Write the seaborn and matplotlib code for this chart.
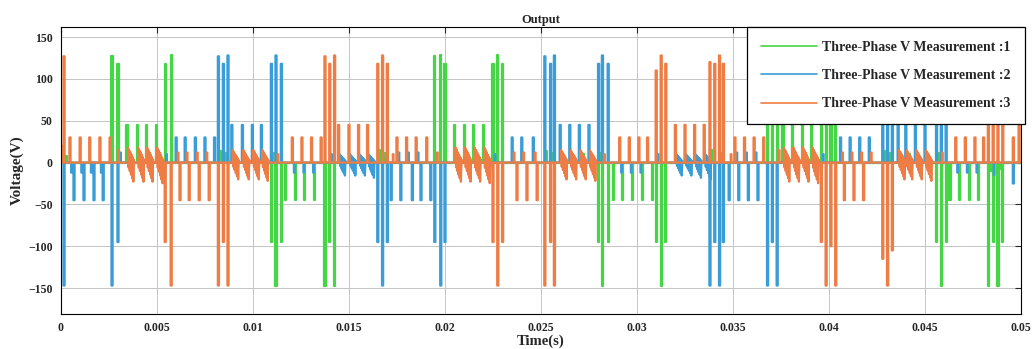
import numpy as np
import pandas as pd
import matplotlib
matplotlib.use("Agg")
import matplotlib.pyplot as plt
import seaborn as sns

# ------------------------------------------
# DATA (times in ms, voltages in V)
# ------------------------------------------

series_names = ["Three-Phase V Measurement :1",
                "Three-Phase V Measurement :2",
                "Three-Phase V Measurement :3"]
series_colors = ["#45d645", "#3a9dd8", "#ee7d45"]

# phase 1 (green) spikes
green_t = [2.66, 2.97, 3.44, 3.97, 4.44, 4.96, 5.43, 5.74,
           10.96, 11.2, 11.48, 11.7, 12.2, 12.7, 13.2, 13.75, 14.0, 14.25,
           19.47, 19.78, 20.0, 20.5, 21.0, 21.5, 22.0, 22.5, 22.75, 23.0,
           28.0, 28.2, 28.5, 28.76, 29.23, 29.75, 30.27, 30.8, 31.0, 31.26, 31.5,
           36.8, 37.05, 37.3, 37.6, 38.1, 38.6, 39.1, 39.6, 39.85, 40.1, 40.35,
           45.6, 45.85, 46.1, 46.3, 46.8, 47.3, 47.8, 48.3, 48.55, 48.8, 49.05]
green_v = [127, 118, 45, 45, 45, 45, 118, 128,
           -95, -147, -95, -45, -45, -45, -45, -147, -95, -147,
           127, 128, 118, 45, 45, 45, 45, 118, 128, 118,
           -95, -147, -95, -45, -45, -45, -45, -45, -95, -147, -95,
           127, 118, 128, 45, 45, 45, 45, 118, 128, 118, 127,
           -95, -147, -95, -45, -45, -45, -45, -147, -95, -147, -95]

# phase 2 (blue) spikes
blue_t = [0.16, 0.68, 1.2, 1.72, 2.2, 2.66, 2.97,
          6.0, 6.47, 7.0, 7.5, 8.0, 8.2, 8.46, 8.7, 8.9, 9.45, 9.97, 10.44, 10.96, 11.2, 11.48,
          16.5, 16.75, 17.0, 17.2, 17.7, 18.3, 18.75, 19.26, 19.47, 19.78, 20.0,
          23.5, 24.0, 24.6, 25.2, 25.5, 25.7, 26.0, 26.5, 27.0, 27.5, 28.0, 28.2, 28.5,
          33.8, 34.05, 34.3, 34.5, 34.8, 35.3, 35.8, 36.3, 36.8, 37.05, 37.3,
          40.6, 41.1, 41.6, 42.1, 42.8, 43.05, 43.3, 43.6, 44.0, 44.5, 45.0, 45.6, 45.85, 46.1,
          49.6]
blue_v = [-147, -45, -45, -45, -45, -147, -95,
          30, 30, 30, 30, 30, 127, 118, 128, 45, 45, 45, 45, 118, 128, 118,
          -95, -147, -95, -45, -45, -45, -45, -45, -95, -147, -95,
          30, 30, 30, 127, 118, 128, 45, 45, 45, 45, 118, 128, 118,
          -147, -95, -147, -95, -45, -45, -45, -45, -147, -95, -147,
          30, 30, 30, 30, 127, 118, 128, 45, 45, 45, 45, 118, 128, 118,
          -25]

# phase 3 (orange) spikes
orange_t = [0.02, 0.16, 0.47, 1.0, 1.5, 2.03, 2.56,
            5.43, 5.74, 6.2, 6.68, 7.2, 7.72, 8.2, 8.46, 8.7,
            12.05, 12.55, 13.05, 13.55, 13.75, 14.0, 14.25, 14.46, 15.0, 15.5, 15.97,
            16.5, 16.75, 17.0, 17.5, 18.0, 18.5, 19.05,
            22.5, 22.75, 23.0, 23.75, 24.27, 24.8, 25.2, 25.5, 25.7,
            29.1, 29.6, 30.1, 30.55, 31.0, 31.26, 31.5, 32.0, 32.5, 33.0, 33.5,
            33.8, 34.05, 34.3, 34.5, 35.1, 35.6, 36.1, 36.6,
            39.6, 39.85, 40.1, 40.35, 40.8, 41.3, 41.8, 42.8, 43.05, 43.3,
            46.6, 47.1, 47.6, 48.05, 48.3, 48.55, 48.8, 49.05, 49.6, 49.9]
orange_v = [20, 127, 30, 30, 30, 30, 30,
            -95, -147, -45, -45, -45, -45, -147, -95, -147,
            30, 30, 30, 30, 127, 118, 128, 45, 45, 45, 45,
            118, 128, 118, 30, 30, 30, 30,
            -95, -147, -95, -45, -45, -45, -147, -95, -147,
            30, 30, 30, 30, 110, 128, 118, 45, 45, 45, 45,
            120, 118, 128, 118, 30, 30, 30, 30,
            -95, -147, -100, -147, -45, -45, -45, -115, -147, -105,
            30, 30, 30, 30, 127, 118, 128, 118, 30, 45]

# small ringing spikes next to the large ones
green_ring_t = [0.3, 8.3, 8.58, 10.1, 11.05, 16.6, 16.88, 25.3, 25.6, 27.2,
                28.1, 33.9, 34.4, 42.9, 43.2, 44.2, 45.7, 48.4, 48.9]
green_ring_v = [8, 14, 12, 10, 12, 15, 12, 14, 12, 10,
                12, 15, 12, 14, 12, 10, 12, -10, -8]
blue_ring_t = [0.55, 1.08, 1.58, 2.1, 3.1, 5.5, 12.15, 12.65, 13.15, 14.1,
               17.6, 18.1, 18.6, 20.6, 22.6, 29.2, 29.7, 30.2, 31.1, 35.2,
               35.7, 36.2, 37.7, 39.7, 46.7, 47.2, 47.7, 48.6]
blue_ring_v = [-12, -12, -12, -12, 12, 10, -12, -12, -12, 10,
               12, 12, 12, 15, 10, -12, -12, -12, 10, 12,
               12, 12, 15, 10, -12, -12, -12, -15]
orange_ring_t = [3.0, 6.1, 6.57, 7.1, 7.6, 11.3, 17.3, 19.6, 23.6, 24.1,
                 24.7, 28.3, 34.9, 37.4, 40.7, 41.2, 41.7, 42.2, 45.9]
orange_ring_v = [15, 12, 12, 12, 12, 10, 10, 12, 12, 12,
                 12, 10, 10, 15, 12, 12, 12, 12, 12]

# sawtooth ringing blocks between spikes: start time, top, bottom
orange_tooth_t = [3.44, 3.97, 4.44, 4.96, 8.9, 9.45, 9.97, 10.44,
                  20.5, 21.0, 21.5, 22.0, 26.0, 26.5, 27.0, 27.5,
                  37.6, 38.1, 38.6, 39.1, 43.6, 44.0, 44.5, 45.0]
orange_tooth_hi = [18, 18, 18, 18, 15, 15, 15, 15,
                   18, 18, 18, 18, 15, 15, 15, 15,
                   18, 18, 18, 18, 15, 15, 15, 15]
orange_tooth_lo = [-25, -25, -25, -27, -22, -22, -22, -24,
                   -25, -25, -25, -27, -22, -22, -22, -24,
                   -25, -25, -25, -27, -22, -22, -22, -24]
blue_tooth_t = [14.46, 15.0, 15.5, 15.97, 32.0, 32.5, 33.0, 33.5]
blue_tooth_hi = [10, 10, 10, 10, 10, 10, 10, 10]
blue_tooth_lo = [-17, -17, -17, -20, -17, -17, -20, -22]

x_ticks = [0, 0.005, 0.01, 0.015, 0.02, 0.025, 0.03, 0.035, 0.04, 0.045, 0.05]
x_tick_labels = ["0", "0.005", "0.01", "0.015", "0.02", "0.025",
                 "0.03", "0.035", "0.04", "0.045", "0.05"]
y_ticks = [-150, -100, -50, 0, 50, 100, 150]

# ------------------------------------------
# BUILD LINE VERTICES
# ------------------------------------------

HW = 0.03   # spike half width (ms)
TW = 0.36   # tooth length (ms)
NZ = 10     # strokes per tooth


def spike(t, v, hw):
    return [(t - hw, 0), (t - hw, v), (t + hw, v), (t + hw, 0)]


def build(name, sp_t, sp_v, rg_t, rg_v, th_t=(), th_hi=(), th_lo=()):
    shapes = []
    for t, v in zip(sp_t, sp_v):
        shapes.append((t, spike(t, v, HW)))
    for t, v in zip(rg_t, rg_v):
        shapes.append((t, spike(t, v, 0.02)))
    for t, hi, lo in zip(th_t, th_hi, th_lo):
        pts = [(t + 0.05, 0)]
        for k in range(NZ + 1):
            f = k / NZ
            x = t + 0.05 + f * (TW - 0.05)
            top = hi * (1 - 0.8 * f)
            bot = lo * (0.15 + 0.85 * f)
            pts.append((x, top if k % 2 == 0 else bot))
        pts.append((t + TW, 0))
        shapes.append((t + 0.05, pts))
    shapes.sort(key=lambda s: s[0])
    rows = [(0.0, 0.0)]
    for _, pts in shapes:
        rows.extend(pts)
    rows.append((50.0, 0.0))
    df = pd.DataFrame(rows, columns=["t", "v"])
    df["t"] = df["t"] / 1000.0
    df["series"] = name
    return df


data = pd.concat([
    build(series_names[0], green_t, green_v, green_ring_t, green_ring_v),
    build(series_names[1], blue_t, blue_v, blue_ring_t, blue_ring_v,
          blue_tooth_t, blue_tooth_hi, blue_tooth_lo),
    build(series_names[2], orange_t, orange_v, orange_ring_t, orange_ring_v,
          orange_tooth_t, orange_tooth_hi, orange_tooth_lo),
], ignore_index=True)

# ------------------------------------------
# PLOT
# ------------------------------------------

sns.set_style("white")
plt.rcParams["font.family"] = ["Liberation Serif", "DejaVu Serif"]
plt.rcParams["font.weight"] = "bold"

fig = plt.figure(figsize=(10.35, 3.49), dpi=100)
ax = fig.add_axes([0.0589, 0.1003, 0.9276, 0.8223])

sns.lineplot(data=data, x="t", y="v", hue="series", hue_order=series_names,
             palette=series_colors, estimator=None, sort=False,
             linewidth=1.6, ax=ax, legend=False)

ax.set_xlim(0, 0.05)
ax.set_ylim(-181, 162)
ax.set_xticks(x_ticks)
ax.set_xticklabels(x_tick_labels)
ax.set_yticks(y_ticks)
ax.grid(True, color="#c4c4c4", linewidth=0.7)
ax.set_axisbelow(True)
for s in ax.spines.values():
    s.set_color("black")
    s.set_linewidth(0.8)
ax.tick_params(direction="in", top=True, right=True, length=4,
               labelsize=8.5, width=0.8, pad=6)
for lab in ax.get_xticklabels() + ax.get_yticklabels():
    lab.set_fontweight("bold")

ax.set_title("Output", fontsize=9, fontweight="bold", pad=3)
ax.set_xlabel("Time(s)", fontsize=10.5, fontweight="bold", labelpad=0)
ax.set_ylabel("Voltage(V)", fontsize=11, fontweight="bold", labelpad=3)

handles = [plt.Line2D([], [], color=c, linewidth=1.2) for c in series_colors]
leg = ax.legend(handles, series_names, loc="upper right",
                bbox_to_anchor=(1.004, 1.0), fontsize=10, frameon=True,
                fancybox=False, framealpha=1, edgecolor="black",
                borderpad=1.0, labelspacing=1.1, handlelength=4.0,
                handletextpad=0.4, borderaxespad=0)
leg.get_frame().set_linewidth(0.9)
for txt in leg.get_texts():
    txt.set_fontweight("bold")

fig.savefig("out.png", dpi=100)
